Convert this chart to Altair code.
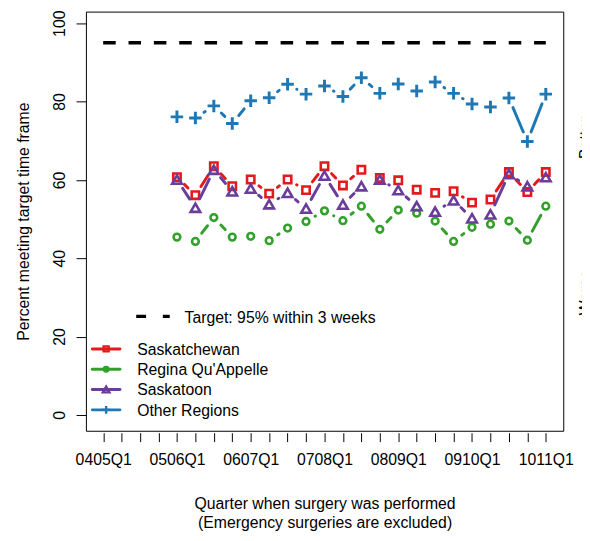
import math
import altair as alt
import pandas as pd

# ---------------- data ----------------
quarters = ["0405Q1", "0405Q2", "0405Q3", "0405Q4",
            "0506Q1", "0506Q2", "0506Q3", "0506Q4",
            "0607Q1", "0607Q2", "0607Q3", "0607Q4",
            "0708Q1", "0708Q2", "0708Q3", "0708Q4",
            "0809Q1", "0809Q2", "0809Q3", "0809Q4",
            "0910Q1", "0910Q2", "0910Q3", "0910Q4",
            "1011Q1"]
first_quarter = 4  # series start at 0506Q1

series_names = ["Saskatchewan", "Regina Qu'Appelle", "Saskatoon", "Other Regions"]
saskatchewan = [60.7, 56.1, 63.5, 58.4, 60.1, 56.5, 60.1, 57.4, 63.5, 58.6, 62.6,
                60.5, 59.9, 57.5, 56.7, 57.1, 54.2, 55.0, 62.0, 56.9, 62.0]
regina = [45.4, 44.3, 50.4, 45.4, 45.6, 44.5, 47.7, 49.4, 52.1, 49.6, 53.3,
          47.4, 52.3, 51.5, 49.5, 44.3, 47.9, 48.7, 49.5, 44.6, 53.3]
saskatoon = [60.1, 52.9, 62.6, 57.1, 57.8, 53.8, 56.7, 52.7, 61.1, 53.7, 58.4,
             60.1, 57.4, 53.3, 51.9, 54.8, 50.2, 51.2, 61.5, 58.4, 60.7]
other_regions = [76.1, 75.8, 78.9, 74.4, 80.2, 81.0, 84.4, 81.9, 84.0, 81.3, 86.1,
                 82.1, 84.5, 82.7, 85.0, 82.1, 79.4, 78.6, 80.9, 69.8, 81.9]
target_value = 95
target_label = "Target: 95% within 3 weeks"
y_ticks = [0, 20, 40, 60, 80, 100]

# ---------------- styling ----------------
FONT = "Liberation Sans"
colors = ["#E31A1C", "#33A02C", "#6A3D9A", "#1F78B4"]
shapes = ["square", "circle", "triangle-up", "M-1,0H1M0,-1V1"]
sizes = [56, 46, 95, 160]
stroke_widths = [2.6, 2.6, 2.6, 3.0]
legend_sizes = [26, 22, 45, 64]

W, H = 484, 425
x_dom = [-0.936, 24.947]
y_dom = [-4.04, 102.97]
px_x = W / (x_dom[1] - x_dom[0])
px_y = H / (y_dom[1] - y_dom[0])
GAP = 10.5  # gap (px) left around each point, like R type="b"

all_series = [saskatchewan, regina, saskatoon, other_regions]
point_frames, segs = [], []
for name, vals in zip(series_names, all_series):
    point_frames.append(pd.DataFrame({
        "series": name,
        "q": [first_quarter + j for j in range(len(vals))],
        "value": vals,
    }))
    for j in range(len(vals) - 1):
        x1 = first_quarter + j
        y1, y2 = vals[j], vals[j + 1]
        L = math.hypot(px_x, (y2 - y1) * px_y)
        if L > 2 * GAP:
            f = GAP / L
            segs.append(dict(series=name, x=x1 + f, x2=x1 + 1 - f,
                             y=y1 + f * (y2 - y1), y2=y2 - f * (y2 - y1)))
df_seg = pd.DataFrame(segs)
df_target = pd.DataFrame([dict(x=0, x2=len(quarters) - 1, y=target_value)])

label_arr = "[" + ",".join("'" + q + "'" for q in quarters) + "]"

x_scale = alt.Scale(domain=x_dom, nice=False, zero=False)
y_scale = alt.Scale(domain=y_dom, nice=False, zero=False)

x_axis = alt.Axis(
    values=list(range(len(quarters))),
    labelExpr=f"datum.value % 4 === 0 ? {label_arr}[datum.value] : ''",
    grid=False, domain=False, offset=2, tickSize=9, tickColor="black",
    labelFont=FONT, labelFontSize=16, labelColor="black", labelAngle=0,
    labelAlign="center", labelBaseline="alphabetic", labelPadding=23,
    labelOverlap=False, labelFlush=False,
    title=["Quarter when surgery was performed", "(Emergency surgeries are excluded)"],
    titleFont=FONT, titleFontSize=16, titleFontWeight="normal", titleColor="black",
    titleBaseline="alphabetic", titleLineHeight=19.5, titleY=77, titleAnchor="middle",
)
y_axis = alt.Axis(
    values=y_ticks, grid=False, domain=False, tickSize=10, tickColor="black",
    labelFont=FONT, labelFontSize=16, labelColor="black", labelAngle=270,
    labelAlign="center", labelBaseline="alphabetic", labelPadding=12,
    title="Percent meeting target time frame",
    titleFont=FONT, titleFontSize=16, titleFontWeight="normal", titleColor="black",
    titleAngle=270, titleAlign="center", titleBaseline="alphabetic",
    titleX=-58, titleY=H / 2,
)

target = alt.Chart(df_target).mark_rule(
    color="black", strokeWidth=3.5, strokeDash=[12.7, 13], strokeCap="butt"
).encode(
    x=alt.X("x:Q", scale=x_scale, axis=x_axis),
    x2="x2:Q",
    y=alt.Y("y:Q", scale=y_scale, axis=y_axis),
)

series_layers = []
for k, name in enumerate(series_names):
    seg_k = df_seg[df_seg["series"] == name]
    series_layers.append(
        alt.Chart(seg_k).mark_rule(strokeWidth=3, strokeCap="round", color=colors[k]).encode(
            x=alt.X("x:Q", scale=x_scale, axis=x_axis),
            x2="x2:Q",
            y=alt.Y("y:Q", scale=y_scale, axis=y_axis),
            y2="y2:Q",
        )
    )
    series_layers.append(
        alt.Chart(point_frames[k]).mark_point(
            shape=shapes[k], size=sizes[k], color=colors[k], filled=False,
            strokeWidth=stroke_widths[k], opacity=1, strokeCap="butt",
        ).encode(
            x=alt.X("q:Q", scale=x_scale, axis=x_axis),
            y=alt.Y("value:Q", scale=y_scale, axis=y_axis),
        )
    )

# ---------------- hand-drawn legend (pixel layout) ----------------
one = pd.DataFrame([{"a": 1}])
legend_layers = []
legend_layers.append(
    alt.Chart(one).mark_rule(color="black", strokeWidth=3.5, strokeDash=[10, 17], strokeCap="butt")
    .encode(x=alt.value(51), x2=alt.value(85), y=alt.value(309))
)
legend_layers.append(
    alt.Chart(one).mark_text(text=target_label, font=FONT, fontSize=16, color="black",
                             align="left", baseline="alphabetic")
    .encode(x=alt.value(100), y=alt.value(315.5))
)
for k, name in enumerate(series_names):
    ly = 342 + 20.6 * k
    legend_layers.append(
        alt.Chart(one).mark_rule(color=colors[k], strokeWidth=3, strokeCap="round")
        .encode(x=alt.value(6.5), x2=alt.value(34.5), y=alt.value(ly))
    )
    legend_layers.append(
        alt.Chart(one).mark_point(shape=shapes[k], size=legend_sizes[k], color=colors[k],
                                  filled=False, strokeWidth=2.4, opacity=1)
        .encode(x=alt.value(20.5), y=alt.value(ly))
    )
    legend_layers.append(
        alt.Chart(one).mark_text(text=name, font=FONT, fontSize=16, color="black",
                                 align="left", baseline="alphabetic")
        .encode(x=alt.value(52), y=alt.value(ly + 6))
    )

side_text = [
    alt.Chart(one).mark_text(text="Better", font=FONT, fontSize=16, color="black",
                             angle=270, align="center", baseline="top")
    .encode(x=alt.value(499), y=alt.value(128)),
    alt.Chart(one).mark_text(text="Worse", font=FONT, fontSize=16, color="black",
                             angle=270, align="center", baseline="top")
    .encode(x=alt.value(499), y=alt.value(285)),
]

chart = alt.layer(target, *series_layers, *legend_layers, *side_text).properties(
    width=W, height=H,
    autosize=alt.AutoSizeParams(type="none"),
    padding={"left": 79, "top": 0, "right": 19, "bottom": 100},
).configure(font=FONT).configure_view(stroke="black", strokeWidth=1)

chart.save("out.html", embed_options={"renderer": "svg", "actions": False})
